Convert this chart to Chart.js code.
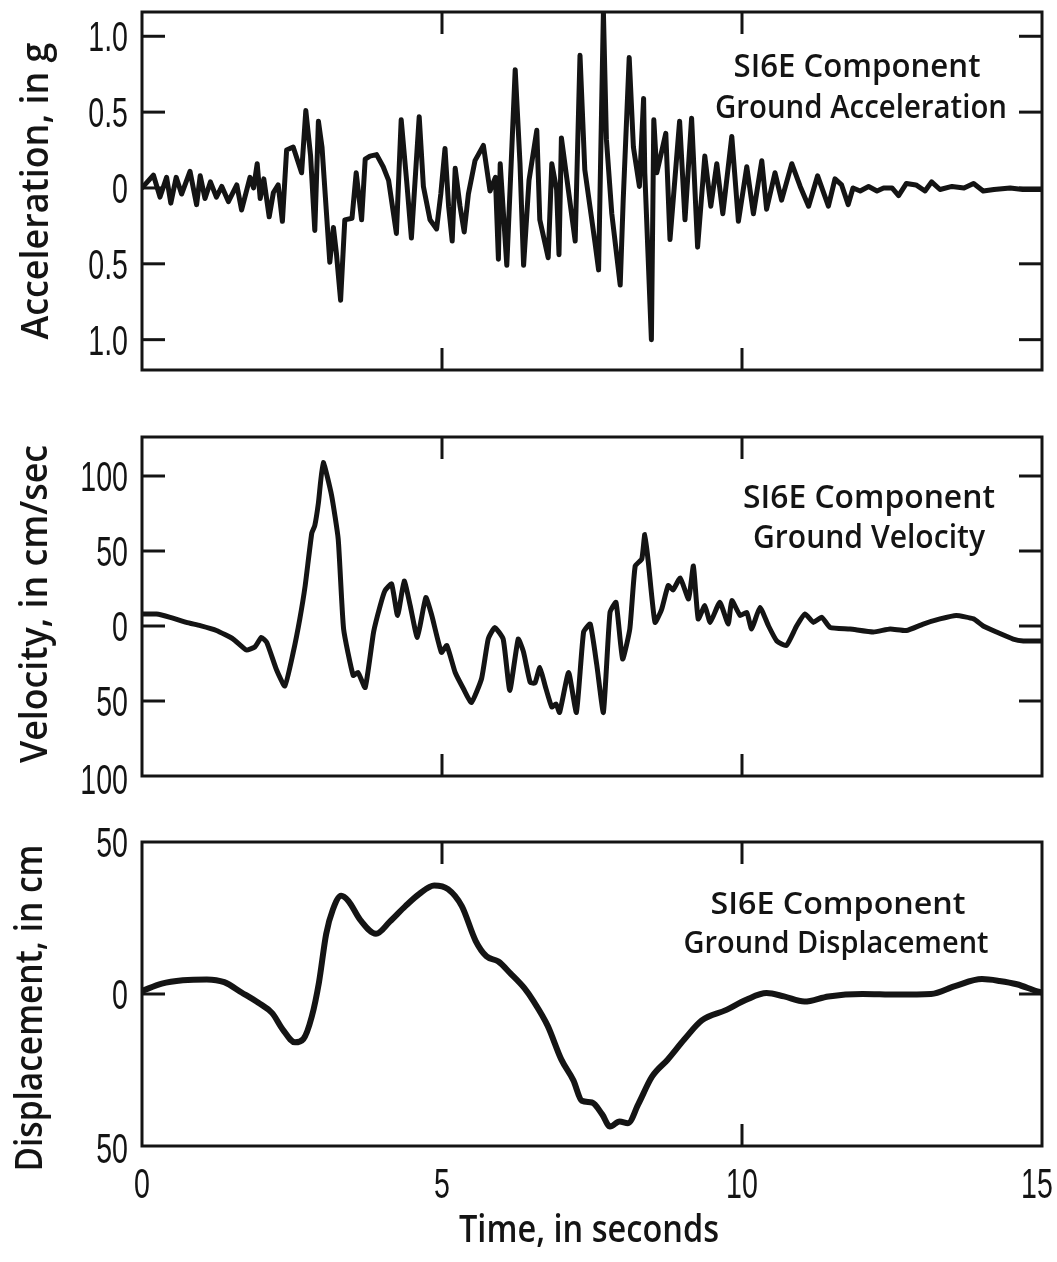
<!DOCTYPE html>
<html>
<head>
<meta charset="utf-8">
<title>S16E Component ground motion</title>
<script src="https://cdn.jsdelivr.net/npm/chart.js@4/dist/chart.umd.min.js"></script>
<style>
  html, body { margin: 0; padding: 0; background: #fff; }
  #wrap { position: relative; width: 1057px; height: 1262px; background: #fff; overflow: hidden; }
  #wrap canvas { position: absolute; left: 0; top: 0; }
</style>
</head>
<body>
<div id="wrap">
  <canvas id="accChart" width="1057" height="1262"></canvas>
  <canvas id="velChart" width="1057" height="1262"></canvas>
  <canvas id="dispChart" width="1057" height="1262"></canvas>
</div>
<script>
// ---- time axis ----
const timeTicks = [0, 5, 10, 15];
const timeTickLabels = ['0', '5', '10', '15'];
const timeInnerTicks = [5, 10];

// ---- ground acceleration (g) ----
const accTime = [
  0.00, 0.19, 0.30, 0.41, 0.48, 0.57, 0.66, 0.80, 0.91, 0.97, 1.05, 1.14, 1.24, 1.33, 1.44, 1.58,
  1.66, 1.80, 1.86, 1.92, 1.97, 2.03, 2.12, 2.19, 2.27, 2.34, 2.41, 2.52, 2.66, 2.73, 2.81, 2.88,
  2.94, 3.00, 3.13, 3.19, 3.24, 3.31, 3.38, 3.50, 3.57, 3.66, 3.72, 3.80, 3.91, 4.02, 4.11, 4.24,
  4.32, 4.41, 4.49, 4.62, 4.69, 4.80, 4.91, 4.98, 5.05, 5.11, 5.17, 5.22, 5.30, 5.37, 5.44, 5.55,
  5.69, 5.80, 5.89, 5.94, 5.97, 6.08, 6.22, 6.30, 6.36, 6.45, 6.58, 6.63, 6.77, 6.83, 6.91, 6.95,
  6.99, 7.22, 7.30, 7.38, 7.55, 7.61, 7.69, 7.74, 7.83, 7.97, 8.02, 8.12, 8.19, 8.29, 8.36, 8.38,
  8.49, 8.53, 8.58, 8.73, 8.80, 8.96, 9.05, 9.16, 9.26, 9.38, 9.48, 9.58, 9.68, 9.83, 9.94, 10.08,
  10.19, 10.33, 10.41, 10.55, 10.66, 10.83, 10.97, 11.11, 11.26, 11.44, 11.55, 11.66, 11.77, 11.85,
  11.97, 12.11, 12.25, 12.36, 12.50, 12.61, 12.74, 12.90, 13.05, 13.16, 13.30, 13.50, 13.70, 13.86,
  14.02, 14.20, 14.47, 14.68, 15.00
];
const accValue = [
  0.00, 0.085, -0.06, 0.07, -0.10, 0.07, -0.04, 0.11, -0.11, 0.08, -0.07, 0.04, -0.06, 0.01, -0.09, 0.02,
  -0.145, 0.07, 0.00, 0.16, -0.07, 0.06, -0.19, -0.03, 0.02, -0.22, 0.25, 0.27, 0.10, 0.51, 0.21, -0.28,
  0.44, 0.27, -0.49, -0.26, -0.43, -0.74, -0.21, -0.20, 0.10, -0.21, 0.19, 0.21, 0.22, 0.14, 0.05, -0.30,
  0.45, 0.05, -0.33, 0.47, 0.01, -0.21, -0.27, -0.04, 0.26, -0.12, -0.35, 0.13, -0.12, -0.29, -0.04, 0.18,
  0.28, -0.02, 0.07, -0.47, 0.16, -0.51, 0.78, 0.16, -0.51, 0.05, 0.38, -0.21, -0.46, 0.16, -0.01, -0.44,
  0.33, -0.35, 0.875, 0.12, -0.36, -0.54, 1.16, 0.32, -0.17, -0.64, -0.08, 0.86, 0.27, 0.01, 0.59, 0.10,
  -1.00, 0.45, 0.10, 0.36, -0.34, 0.44, -0.21, 0.46, -0.39, 0.21, -0.12, 0.16, -0.17, 0.34, -0.22, 0.14,
  -0.17, 0.18, -0.14, 0.10, -0.08, 0.16, 0.01, -0.12, 0.08, -0.12, 0.06, 0.02, -0.11, 0.00,
  -0.02, 0.01, -0.02, 0.00, 0.00, -0.05, 0.03, 0.02, -0.02, 0.04, -0.01, 0.01, 0.00, 0.03,
  -0.02, -0.01, 0.00, -0.01, -0.01
];
const accTickValues = [1, 0.5, 0, -0.5, -1];
const accTickLabels = ['1.0', '0.5', '0', '0.5', '1.0'];

// ---- ground velocity (cm/sec) ----
const velTime = [
  0.00, 0.24, 0.47, 0.74, 0.97, 1.24, 1.52, 1.74, 1.88, 1.99, 2.08, 2.24, 2.38, 2.52, 2.63, 2.72,
  2.83, 2.88, 2.94, 3.02, 3.16, 3.27, 3.36, 3.52, 3.60, 3.72, 3.86, 3.97, 4.05, 4.16, 4.26, 4.37,
  4.47, 4.59, 4.73, 4.83, 4.99, 5.08, 5.22, 5.36, 5.49, 5.66, 5.77, 5.88, 6.02, 6.13, 6.27, 6.36,
  6.47, 6.55, 6.63, 6.72, 6.83, 6.90, 6.96, 7.11, 7.24, 7.36, 7.47, 7.58, 7.69, 7.80, 7.90, 8.01,
  8.13, 8.22, 8.33, 8.38, 8.44, 8.55, 8.66, 8.77, 8.85, 8.97, 9.11, 9.19, 9.27, 9.38, 9.47, 9.63,
  9.77, 9.83, 9.97, 10.08, 10.16, 10.30, 10.44, 10.58, 10.74, 10.91, 11.05, 11.19, 11.33, 11.47,
  11.80, 12.19, 12.47, 12.74, 13.02, 13.30, 13.57, 13.86, 14.02, 14.24, 14.52, 14.69, 15.00
];
const velValue = [
  8, 8, 5.8, 2.4, 0.2, -3, -8.7, -16, -14, -7.6, -11, -29, -40, -17.6, 4.7, 27,
  62, 67, 82, 109, 87, 58, -2, -33, -31, -41, -4, 13.6, 23.6, 28, 7, 30,
  13.6, -7.6, 19, 7, -17.6, -13, -31, -42, -51, -35, -8.7, -1, -8.7, -43, -8.7, -17.6,
  -37.6, -38, -27.6, -40, -54, -52, -57.6, -31, -57.6, -4, 1.3, -26, -57.6, 9, 15.8, -22,
  -2, 40, 44.7, 61, 42, 2.4, 11, 27, 24, 32, 18, 40, 4.7, 13.6, 2.4, 15.8,
  1.3, 17, 7, 9, -2, 12.4, 0.2, -10, -13, 0, 8, 2.4, 5.8, -1,
  -2, -4, -2, -3, 1.3, 4.7, 7, 4.7, 0, -4, -8.7, -10, -10
];
const velTickValues = [100, 50, 0, -50, -100];
const velTickLabels = ['100', '50', '0', '50', '100'];

// ---- ground displacement (cm) ----
const dispTime = [
  0.00, 0.33, 0.68, 1.08, 1.37, 1.66, 1.94, 2.17, 2.35, 2.55, 2.69, 2.83, 2.95, 3.07, 3.18, 3.32,
  3.44, 3.64, 3.90, 4.13, 4.39, 4.62, 4.87, 5.10, 5.33, 5.56, 5.74, 5.94, 6.14, 6.37, 6.53, 6.76,
  6.99, 7.19, 7.33, 7.50, 7.67, 7.80, 7.96, 8.10, 8.27, 8.50, 8.76, 9.04, 9.33, 9.73, 10.07, 10.41,
  10.70, 11.04, 11.44, 12.01, 12.58, 13.15, 13.55, 14.00, 14.29, 14.58, 14.92, 15.00
];
const dispValue = [
  1, 3.4, 4.5, 4.8, 3.9, 0.5, -2.9, -6.3, -11.8, -15.9, -14.8, -7.4, 3.9, 19.8, 27.7, 32.3,
  30.6, 24.3, 19.8, 23.8, 28.9, 32.9, 35.7, 34.5, 28.9, 17.5, 12.4, 10.7, 6.8, 2.0, -2.5, -10.4,
  -21.6, -28.4, -35.1, -35.7, -39.6, -43.6, -41.9, -42.5, -36.3, -27.2, -21.6, -14.9, -8.7, -5.3, -1.9, 0.3,
  -0.8, -2.5, -0.8, 0, -0.2, 0, 2.6, 4.9, 4.3, 3.2, 0.9, 0.5
];
const dispTickValues = [50, 0, -50];
const dispTickLabels = ['50', '0', '50'];

const INK = '#141414';
const PAGE_H = 1262, PAGE_W = 1057;
const PLOT_LEFT = 142, PLOT_RIGHT = 1042;

function pairs(xs, ys) { return xs.map((t, i) => ({ x: t, y: ys[i] })); }

// text drawn with a horizontal squeeze / stretch
function drawText(ctx, text, x, y, o) {
  ctx.save();
  ctx.font = o.font;
  ctx.fillStyle = INK;
  ctx.textBaseline = 'alphabetic';
  ctx.textAlign = o.align || 'center';
  ctx.translate(x, y);
  if (o.rotate) ctx.rotate(o.rotate);
  let sx = o.sx || 1;
  if (o.width) sx = o.width / ctx.measureText(text).width;
  ctx.scale(sx, 1);
  ctx.fillText(text, 0, 0);
  ctx.restore();
}

function seg(ctx, x1, y1, x2, y2) {
  ctx.beginPath(); ctx.moveTo(x1, y1); ctx.lineTo(x2, y2); ctx.stroke();
}

const NUM_FONT = '42px "Liberation Sans", Arial, sans-serif';
const NUM_SX = 0.68;
const TITLE_FONT = '600 38px "Open Sans", "DejaVu Sans", sans-serif';

// frame, inner ticks, tick labels and texts of one panel
function panelDecor(p) {
  return {
    id: 'decor_' + p.key,
    afterDraw(chart) {
      const { ctx, chartArea: a, scales: { x, y } } = chart;
      ctx.save();
      ctx.strokeStyle = INK;
      ctx.lineWidth = 3;
      ctx.lineCap = 'butt';
      ctx.strokeRect(a.left, a.top, a.right - a.left, a.bottom - a.top);
      p.yMarks.forEach(v => {
        const py = y.getPixelForValue(v);
        seg(ctx, a.left, py, a.left + 23, py);
        seg(ctx, a.right - 23, py, a.right, py);
      });
      p.xMarksTop.forEach(v => {
        const px = x.getPixelForValue(v);
        seg(ctx, px, a.top, px, a.top + 22);
      });
      p.xMarksBottom.forEach(v => {
        const px = x.getPixelForValue(v);
        seg(ctx, px, a.bottom, px, a.bottom - 22);
      });
      ctx.restore();

      p.yTickValues.forEach((v, i) => {
        const py = y.getPixelForValue(v) + (p.yLabelShift ? p.yLabelShift[i] : 0);
        drawText(ctx, p.yTickLabels[i], a.left - 14, py + 15, { font: NUM_FONT, align: 'right', sx: NUM_SX });
      });
      if (p.showTime) {
        timeTicks.forEach((v, i) => {
          drawText(ctx, timeTickLabels[i], x.getPixelForValue(v) - (i === timeTicks.length - 1 ? 5 : 0),
            a.bottom + 52, { font: NUM_FONT, sx: NUM_SX });
        });
        drawText(ctx, 'Time, in seconds', 589, 1242, { font: TITLE_FONT, width: 260 });
      }
      // axis title, rotated
      drawText(ctx, p.yTitle, p.yTitleX, p.yTitleY, { font: TITLE_FONT, rotate: -Math.PI / 2, width: p.yTitleLen });
      // panel caption
      p.caption.forEach(c => drawText(ctx, c.text, c.x, c.y, { font: c.font, width: c.w }));
    }
  };
}

function makeChart(id, data, yMin, yMax, area, lineOpts, decor) {
  return new Chart(document.getElementById(id), {
    type: 'line',
    data: {
      datasets: [Object.assign({
        data: data,
        borderColor: INK,
        backgroundColor: INK,
        pointRadius: 0,
        fill: false,
        borderJoinStyle: 'round',
        borderCapStyle: 'round'
      }, lineOpts)]
    },
    options: {
      responsive: false,
      animation: false,
      events: [],
      parsing: false,
      layout: {
        autoPadding: false,
        padding: { left: PLOT_LEFT, right: PAGE_W - PLOT_RIGHT, top: area.top, bottom: PAGE_H - area.bottom }
      },
      plugins: { legend: { display: false }, tooltip: { enabled: false }, title: { display: false } },
      scales: {
        x: { type: 'linear', min: 0, max: 15, display: false },
        y: { type: 'linear', min: yMin, max: yMax, display: false }
      }
    },
    plugins: [panelDecor(decor)]
  });
}

const CAP_FONT = '600 32px "Open Sans", "DejaVu Sans", sans-serif';

makeChart('accChart', pairs(accTime, accValue), -1.2, 1.16, { top: 12, bottom: 370 },
  { borderWidth: 5, tension: 0 },
  {
    key: 'acc',
    yMarks: [1, 0.5, 0, -0.5, -1],
    xMarksTop: timeInnerTicks, xMarksBottom: timeInnerTicks,
    yTickValues: accTickValues, yTickLabels: accTickLabels,
    yTitle: 'Acceleration, in g', yTitleX: 48, yTitleY: 191, yTitleLen: 297,
    caption: [
      { text: 'SI6E Component', x: 857, y: 77, w: 247, font: CAP_FONT },
      { text: 'Ground Acceleration', x: 861, y: 118, w: 292, font: CAP_FONT }
    ]
  });

makeChart('velChart', pairs(velTime, velValue), -100, 126, { top: 437, bottom: 776 },
  { borderWidth: 5, tension: 0.15 },
  {
    key: 'vel',
    yMarks: [100, 50, 0, -50],
    xMarksTop: timeInnerTicks, xMarksBottom: timeInnerTicks,
    yTickValues: velTickValues, yTickLabels: velTickLabels,
    yLabelShift: [0, 0, 0, 0, 3],
    yTitle: 'Velocity, in cm/sec', yTitleX: 47, yTitleY: 604, yTitleLen: 318,
    caption: [
      { text: 'SI6E Component', x: 869, y: 508, w: 252, font: CAP_FONT },
      { text: 'Ground Velocity', x: 869, y: 548, w: 232, font: CAP_FONT }
    ]
  });

makeChart('dispChart', pairs(dispTime, dispValue), -50, 50, { top: 842, bottom: 1146 },
  { borderWidth: 6, cubicInterpolationMode: 'monotone' },
  {
    key: 'disp',
    yMarks: [0],
    xMarksTop: timeInnerTicks, xMarksBottom: [10],
    yTickValues: dispTickValues, yTickLabels: dispTickLabels,
    yLabelShift: [0, 0, 2],
    yTitle: 'Displacement, in cm', yTitleX: 42, yTitleY: 1008, yTitleLen: 327,
    showTime: true,
    caption: [
      { text: 'SI6E Component', x: 838, y: 914, w: 255, font: '600 30px "Open Sans", "DejaVu Sans", sans-serif' },
      { text: 'Ground Displacement', x: 836, y: 953, w: 305, font: '600 30px "Open Sans", "DejaVu Sans", sans-serif' }
    ]
  });
</script>
</body>
</html>
